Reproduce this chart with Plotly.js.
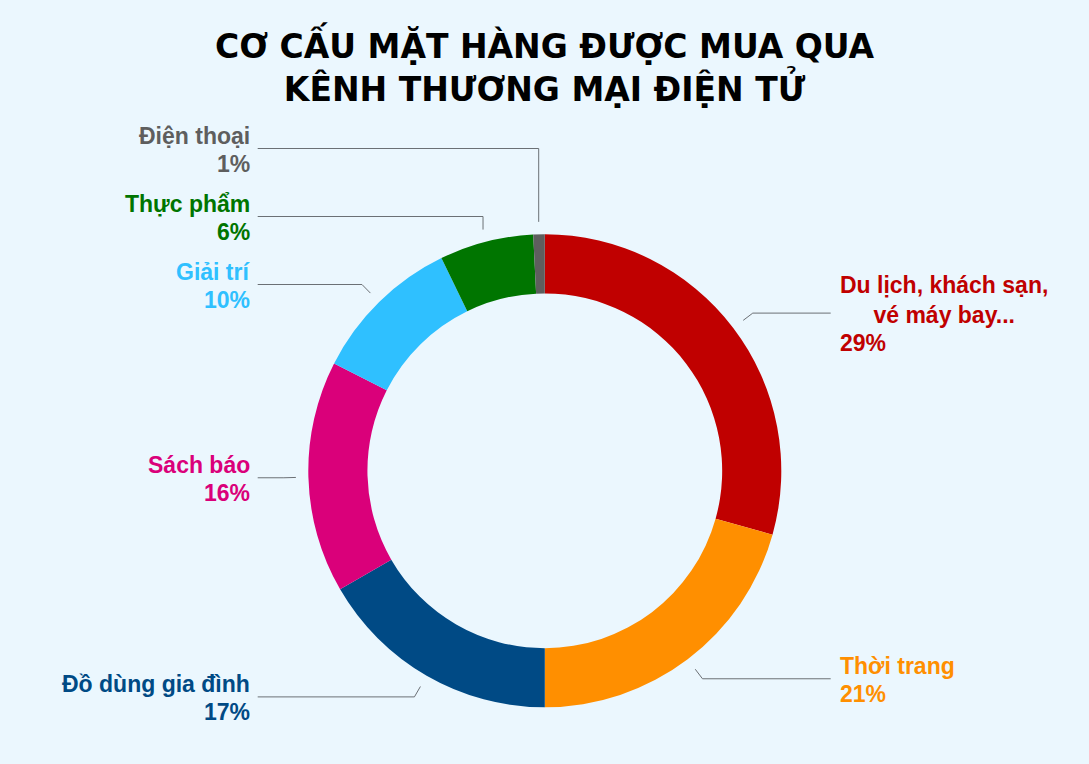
<!DOCTYPE html>
<html>
<head>
<meta charset="utf-8">
<script src="https://cdn.plot.ly/plotly-3.0.1.min.js"></script>
<style>
  html, body { margin: 0; padding: 0; background: #ebf7fe; }
  #chart { width: 1089px; height: 764px; }
</style>
</head>
<body>
<div id="chart"></div>
<script>
// slice data (clockwise from 12 o'clock)
const categories = [
  "Du lịch, khách sạn,<br>vé máy bay...",
  "Thời trang",
  "Đồ dùng gia đình",
  "Sách báo",
  "Giải trí",
  "Thực phẩm",
  "Điện thoại"
];
const shares = [29.35, 20.65, 16.65, 15.85, 10.3, 6.42, 0.78];
const sliceColors = ["#c00000", "#ff8f00", "#004a85", "#da007a", "#2fc0ff", "#007500", "#5e5e5e"];

const W = 1089, H = 764;
const CX = 544.8, CY = 470.8, R = 236.5;   // donut centre / outer radius in px
const BG = "#ebf7fe";

// px -> paper helpers (margins are 0)
const px = x => x / W;
const py = y => 1 - y / H;

const total = shares.reduce((a, b) => a + b, 0);

const pieTrace = {
  type: "pie",
  values: shares,
  labels: categories,
  sort: false,
  direction: "clockwise",
  rotation: 0,
  hole: 0.75,
  textinfo: "none",
  hoverinfo: "label+percent",
  marker: { colors: sliceColors, line: { width: 0 } },
  domain: {
    x: [px(CX - R), px(CX + R)],
    y: [py(CY + R), py(CY - R)]
  },
  showlegend: false
};

// leader lines + labels, placed from each slice's mid angle
const annotations = [];
const shapes = [];
const LINE_H = 29.5;   // label line height
const MIN_GAP = 68;    // min vertical gap between labels on one side
let cum = 0;
let lastLeftY = Infinity, lastRightY = -Infinity;

shares.forEach((v, i) => {
  const th = 2 * Math.PI * (cum + v / 2) / total;
  cum += v;
  const s = Math.sin(th), c = Math.cos(th);
  const p0 = { x: CX + 249 * s, y: CY - 249 * c };
  let elbow = { x: CX + 261 * s, y: CY - 261 * c };
  const right = s >= 0;
  let lineY = elbow.y;

  if (right) {
    if (lineY < lastRightY + MIN_GAP) lineY = lastRightY + MIN_GAP;
    lastRightY = lineY;
  } else {
    if (lineY > lastLeftY - MIN_GAP) lineY = lastLeftY - MIN_GAP;
    lastLeftY = lineY;
  }
  if (lineY !== elbow.y) elbow = { x: p0.x, y: lineY }; // pushed: go straight up

  const endX = right ? 830.7 : 257.7;
  shapes.push({
    type: "path",
    xref: "paper", yref: "paper",
    path: `M ${px(p0.x)} ${py(p0.y)} L ${px(elbow.x)} ${py(elbow.y)} L ${px(endX)} ${py(lineY)}`,
    line: { color: "#6b7075", width: 1 }
  });

  const nameLines = categories[i].split("<br>").length;
  const split = lineY + 1 + (nameLines - 1) * LINE_H / 2;
  const labelX = right ? 838.5 : 250.5;
  const font = { family: "Liberation Sans, Arial, sans-serif", size: 23, color: sliceColors[i], weight: "bold" };

  annotations.push({
    xref: "paper", yref: "paper",
    x: px(labelX), y: py(split),
    xanchor: right ? "left" : "right", yanchor: "bottom",
    align: nameLines > 1 ? "center" : (right ? "left" : "right"),
    text: "<b>" + categories[i] + "</b>",
    showarrow: false, borderpad: 0,
    font: font
  });
  annotations.push({
    xref: "paper", yref: "paper",
    x: px(labelX), y: py(split),
    xanchor: right ? "left" : "right", yanchor: "top",
    align: right ? "left" : "right",
    text: "<b>" + Math.round(v / total * 100) + "%</b>",
    showarrow: false, borderpad: 0,
    font: font
  });
});

// title
annotations.push({
  xref: "paper", yref: "paper",
  x: 0.5, y: py(66),
  xanchor: "center", yanchor: "middle",
  text: "<b>CƠ CẤU MẶT HÀNG ĐƯỢC MUA QUA<br>KÊNH THƯƠNG MẠI ĐIỆN TỬ</b>",
  showarrow: false,
  font: { family: "DejaVu Sans, sans-serif", size: 33, color: "#000000" }
});

const layout = {
  width: W,
  height: H,
  margin: { t: 0, b: 0, l: 0, r: 0 },
  paper_bgcolor: BG,
  plot_bgcolor: BG,
  showlegend: false,
  annotations: annotations,
  shapes: shapes
};

Plotly.newPlot("chart", [pieTrace], layout, {
  displayModeBar: false,
  responsive: false,
  staticPlot: true
});
</script>
</body>
</html>
